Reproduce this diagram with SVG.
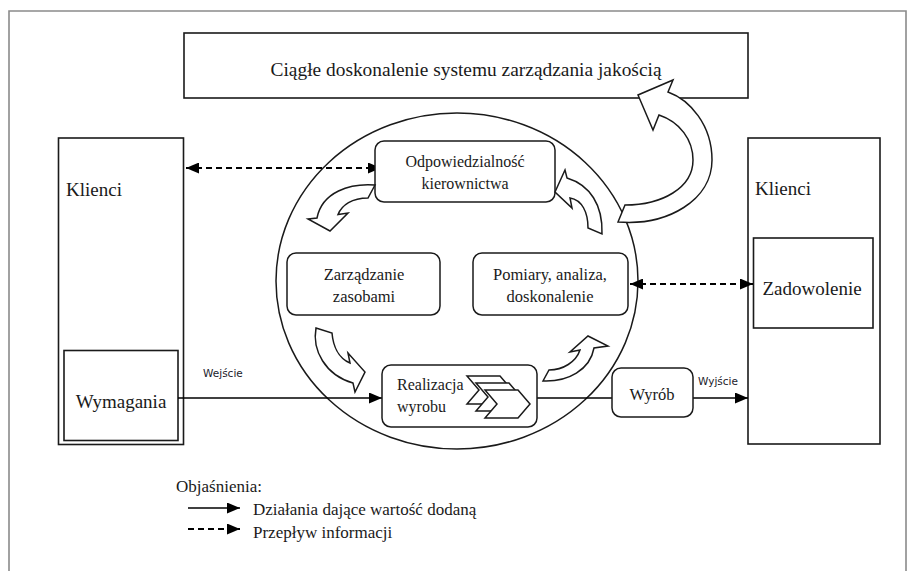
<svg xmlns="http://www.w3.org/2000/svg" width="915" height="571" viewBox="0 0 915 571">
<style>
.box{fill:#fff;stroke:#1a1a1a;stroke-width:1.6}
.rbox{fill:#fff;stroke:#1a1a1a;stroke-width:1.5}
.t{font-family:"Liberation Serif","Times New Roman",serif;fill:#1a1a1a}
.s{font-family:"DejaVu Sans","Liberation Sans",sans-serif;font-size:10.5px;fill:#1a1a2a}
.solid{fill:none;stroke:#000;stroke-width:1.6}
.dash{fill:none;stroke:#000;stroke-width:1.8;stroke-dasharray:6 4}
.blk{fill:#fff;stroke:#1a1a1a;stroke-width:1.5;stroke-linejoin:miter}
</style>
<defs>
<marker id="ah" markerUnits="userSpaceOnUse" markerWidth="13" markerHeight="11" refX="13" refY="5.5" orient="auto-start-reverse">
<path d="M0,0 L13,5.5 L0,11 Z" fill="#000"/>
</marker>
<path id="chev" d="M0,0 H33 L45,14 L33,28 H0 L12,14 Z"/>
</defs>
<rect width="915" height="571" fill="#fff"/>
<g id="frame"><path d="M9,575 V11 H906 V575" fill="none" stroke="#8a8a8a" stroke-width="1.6"/></g>

<g id="title">
<rect class="box" x="184" y="33" width="564" height="65"/>
<text class="t" x="466" y="76" font-size="18" text-anchor="middle" textLength="391" lengthAdjust="spacingAndGlyphs">Ciągłe doskonalenie systemu zarządzania jakością</text>
</g>

<g id="process-circle"><ellipse cx="457" cy="281" rx="181" ry="168" fill="none" stroke="#1a1a1a" stroke-width="1.5"/></g>

<g id="klienci-left">
<rect class="box" x="58.5" y="138" width="125" height="306.5"/>
<text class="t" x="66" y="196" font-size="19">Klienci</text>
</g>
<g id="wymagania">
<rect class="box" x="64" y="350.5" width="114" height="90"/>
<text class="t" x="121" y="408" font-size="19" text-anchor="middle">Wymagania</text>
</g>

<g id="klienci-right">
<rect class="box" x="748" y="138" width="132" height="306"/>
<text class="t" x="755" y="195" font-size="19">Klienci</text>
</g>
<g id="zadowolenie">
<rect class="box" x="753.5" y="238" width="119.5" height="90"/>
<text class="t" x="812" y="295" font-size="19" text-anchor="middle">Zadowolenie</text>
</g>

<g id="connectors">
<line class="dash" x1="186" y1="168" x2="381" y2="168" marker-start="url(#ah)" marker-end="url(#ah)"/>
<line class="dash" x1="630" y1="284" x2="753" y2="284" marker-start="url(#ah)" marker-end="url(#ah)"/>
<line class="solid" x1="178" y1="398" x2="382" y2="398" marker-end="url(#ah)"/>
<line class="solid" x1="537" y1="398" x2="612" y2="398"/>
<line class="solid" x1="693" y1="398" x2="748" y2="398" marker-end="url(#ah)"/>
<text class="s" x="203" y="377">Wejście</text>
<text class="s" x="698" y="385">Wyjście</text>
</g>

<g id="odpowiedzialnosc">
<rect class="rbox" x="375" y="141" width="180" height="61" rx="9"/>
<text class="t" x="465" y="167" font-size="16" text-anchor="middle">Odpowiedzialność</text>
<text class="t" x="465" y="189" font-size="16" text-anchor="middle">kierownictwa</text>
</g>
<g id="zarzadzanie">
<rect class="rbox" x="287" y="253" width="153" height="62" rx="9"/>
<text class="t" x="364" y="280" font-size="16.5" text-anchor="middle">Zarządzanie</text>
<text class="t" x="364" y="302" font-size="16.5" text-anchor="middle">zasobami</text>
</g>
<g id="pomiary">
<rect class="rbox" x="473" y="253" width="155" height="62" rx="9"/>
<text class="t" x="550" y="280" font-size="16.5" text-anchor="middle">Pomiary, analiza,</text>
<text class="t" x="550" y="302" font-size="16.5" text-anchor="middle">doskonalenie</text>
</g>
<g id="realizacja">
<rect class="rbox" x="382" y="365" width="155" height="62" rx="9"/>
<text class="t" x="397" y="390" font-size="16">Realizacja</text>
<text class="t" x="397" y="412" font-size="16">wyrobu</text>
<use href="#chev" x="467" y="376" class="blk"/>
<use href="#chev" x="476" y="383" class="blk"/>
<use href="#chev" x="485" y="390" class="blk"/>
</g>
<g id="wyrob">
<rect class="rbox" x="612" y="368" width="81" height="49" rx="9"/>
<text class="t" x="652" y="400" font-size="16.5" text-anchor="middle">Wyrób</text>
</g>

<g id="cycle-arrows">
<path class="blk" d="M618,222 C668,226 712,200 712,160 C712,125 690,100 668,92 L673,80 L638,95 L653,130 L659,115 C680,122 693,140 693,160 C693,188 662,205 625,205 Z"/>
<path class="blk" d="M375,185 C350,183 322,192 317,218 L308,219 L330,231 L348,213 L338,214.5 C342,205 352,198 368,198 Z"/>
<path class="blk" d="M602,234 C603,205 590,185 567,178 L565,170 L555,192 L572,208 L570,198 C582,200 588,212 588,228 Z"/>
<path class="blk" d="M316,328 C312,350 325,375 353,383 L355,392 L365,372 L348,353 L350,363 C338,358 333,345 332,333 Z"/>
<path class="blk" d="M543,381 C568,382 590,370 594,348 L608,346 L588,336 L570,352 L580,350 C576,362 563,370 549,370 Z"/>
</g>

<g id="legend">
<text class="t" x="176" y="492" font-size="17">Objaśnienia:</text>
<line class="solid" x1="188" y1="508" x2="240" y2="508" marker-end="url(#ah)"/>
<text class="t" x="253" y="515" font-size="17">Działania dające wartość dodaną</text>
<line class="dash" x1="188" y1="529" x2="240" y2="529" marker-end="url(#ah)"/>
<text class="t" x="253" y="538" font-size="17">Przepływ informacji</text>
</g>
</svg>
